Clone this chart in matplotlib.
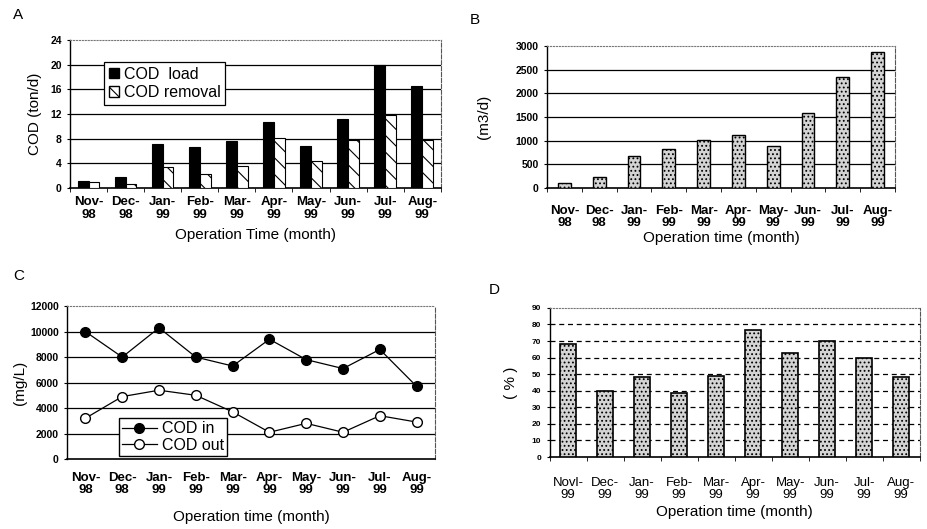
import numpy as np
import matplotlib
matplotlib.use('Agg')
import matplotlib.pyplot as plt
from matplotlib.patches import Patch

plt.rcParams['font.family'] = ['Liberation Sans', 'DejaVu Sans']
plt.rcParams['hatch.linewidth'] = 0.8

# data
months_a = ['Nov-\n98', 'Dec-\n98', 'Jan-\n99', 'Feb-\n99', 'Mar-\n99',
            'Apr-\n99', 'May-\n99', 'Jun-\n99', 'Jul-\n99', 'Aug-\n99']
months_d = ['Novl-\n99', 'Dec-\n99', 'Jan-\n99', 'Feb-\n99', 'Mar-\n99',
            'Apr-\n99', 'May-\n99', 'Jun-\n99', 'Jul-\n99', 'Aug-\n99']

cod_load = [1.1, 1.8, 7.2, 6.6, 7.6, 10.7, 6.8, 11.2, 20.0, 16.5]
cod_removal = [0.9, 0.65, 3.35, 2.3, 3.6, 8.1, 4.3, 7.8, 11.9, 7.8]

flow = [105, 235, 670, 820, 1020, 1120, 890, 1580, 2345, 2870]

cod_in = [10000, 8000, 10300, 8000, 7300, 9400, 7800, 7100, 8600, 5700]
cod_out = [3200, 4900, 5400, 5000, 3700, 2100, 2800, 2100, 3400, 2900]

removal_pct = [68, 40, 48.5, 38.5, 49, 76.5, 63, 70, 60, 48]

x = np.arange(len(months_a))


def style_axes(ax, ymax, ystep, grid_ls='-'):
    ax.set_xlim(-0.5, len(x) - 0.5)
    ax.set_ylim(0, ymax)
    ax.set_yticks(np.arange(0, ymax + 1, ystep))
    for v in np.arange(ystep, ymax, ystep):
        ax.axhline(v, color='black', lw=0.9, ls=grid_ls, zorder=0)
    ax.set_axisbelow(True)
    ax.spines['top'].set_linestyle(':')
    ax.spines['top'].set_color('#777777')
    ax.spines['right'].set_linestyle('--')
    ax.spines['right'].set_color('#555555')
    ax.spines['left'].set_linewidth(1.0)
    ax.spines['bottom'].set_linewidth(1.2)
    ax.set_xticks(x)
    ax.set_xticks(np.arange(-0.5, len(x), 1), minor=True)
    ax.tick_params(axis='x', which='major', length=0, pad=6)
    ax.tick_params(axis='x', which='minor', length=3, direction='out')
    ax.tick_params(axis='y', length=2, labelsize=7.5, pad=4)
    for t in ax.get_yticklabels():
        t.set_fontweight('bold')


fig = plt.figure(figsize=(9.27, 5.29), dpi=100)

# A - COD load / removal
axA = fig.add_axes([0.0755, 0.6446, 0.400, 0.280])
w = 0.29
axA.bar(x - w / 2, cod_load, w, color='black', edgecolor='black', lw=0.8, zorder=3)
axA.bar(x + w / 2, cod_removal, w, color='white', edgecolor='black', lw=0.8,
        hatch='\\\\', zorder=3)
style_axes(axA, 24, 4)
axA.set_xticklabels(months_a, fontsize=9.5, fontweight='bold', linespacing=1.05)
axA.set_ylabel('COD (ton/d)', fontsize=11, labelpad=6)
axA.set_xlabel('Operation Time (month)', fontsize=11, labelpad=5)
handlesA = [Patch(facecolor='black', edgecolor='black', label='COD  load'),
            Patch(facecolor='white', edgecolor='black', hatch='\\\\\\', label='COD removal')]
legA = axA.legend(handles=handlesA, loc='upper left', bbox_to_anchor=(0.093, 0.85),
                  fontsize=11.5, frameon=True, fancybox=False, edgecolor='black',
                  handlelength=0.6, handleheight=0.6, handletextpad=0.3,
                  borderpad=0.3, labelspacing=0.2, framealpha=1, borderaxespad=0)
legA.get_frame().set_linewidth(0.9)
fig.text(0.014, 0.965, 'A', fontsize=11)

# B - flow
axB = fig.add_axes([0.590, 0.6446, 0.3755, 0.268])
axB.bar(x, flow, 0.37, color='#d4d4d4', edgecolor='black', lw=1.0, hatch='....', zorder=3)
style_axes(axB, 3000, 500)
axB.set_xticklabels(months_a, fontsize=9.5, fontweight='bold', linespacing=1.05)
axB.tick_params(axis='x', which='major', pad=12)
axB.set_ylabel('(m3/d)', fontsize=11, labelpad=18)
axB.set_xlabel('Operation time (month)', fontsize=11, labelpad=1)
fig.text(0.507, 0.955, 'B', fontsize=11)

# C - COD in / out
axC = fig.add_axes([0.0723, 0.1323, 0.397, 0.289])
axC.plot(x, cod_in, color='black', lw=0.9, marker='o', ms=7, mfc='black',
         mec='black', label='COD in', zorder=3)
axC.plot(x, cod_out, color='black', lw=0.9, marker='o', ms=7, mfc='white',
         mec='black', label='COD out', zorder=3)
style_axes(axC, 12000, 2000)
axC.tick_params(axis='x', which='minor', length=0)
axC.tick_params(axis='x', which='major', pad=9)
axC.set_xticklabels(months_a, fontsize=9.5, fontweight='bold', linespacing=1.05)
axC.set_ylabel('(mg/L)', fontsize=11, labelpad=2)
axC.set_xlabel('Operation time (month)', fontsize=11, labelpad=10)
legC = axC.legend(loc='lower left', bbox_to_anchor=(0.14, 0.02), fontsize=11.5,
                  frameon=True, fancybox=False, edgecolor='black', handlelength=2.2,
                  handletextpad=0.3, borderpad=0.2, labelspacing=0.1, framealpha=1,
                  borderaxespad=0)
legC.get_frame().set_linewidth(1.0)
fig.text(0.014, 0.47, 'C', fontsize=11)

# D - removal efficiency
axD = fig.add_axes([0.593, 0.136, 0.399, 0.282])
axD.bar(x, removal_pct, 0.43, color='#d4d4d4', edgecolor='black', lw=1.2, hatch='....', zorder=3)
style_axes(axD, 90, 10, grid_ls=(0, (4, 3)))
axD.set_xticklabels(months_d, fontsize=9.5, linespacing=1.05)
axD.tick_params(axis='x', which='major', pad=14)
axD.tick_params(axis='y', labelsize=6)
axD.set_ylabel('( % )', fontsize=11, labelpad=10)
axD.set_xlabel('Operation time (month)', fontsize=11, labelpad=3)
fig.text(0.527, 0.445, 'D', fontsize=11)

plt.savefig('out.png', dpi=100)
